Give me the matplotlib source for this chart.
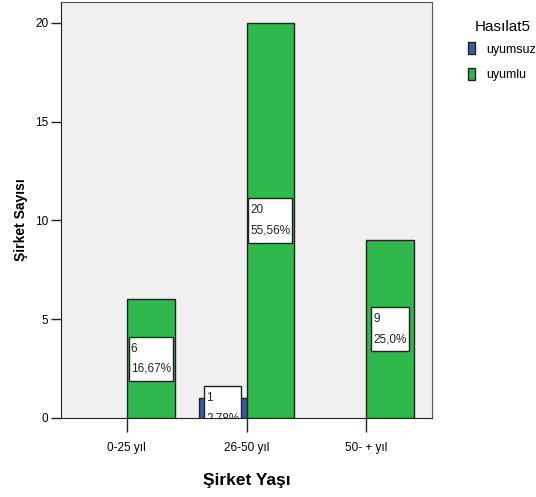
import matplotlib
matplotlib.use("Agg")
import matplotlib.pyplot as plt
from matplotlib.patches import Rectangle, Patch
from matplotlib.transforms import IdentityTransform

plt.rcParams['font.family'] = ['Liberation Sans', 'DejaVu Sans']

# data
categories = ['0-25 yıl', '26-50 yıl', '50- + yıl']
uyumsuz = [0, 1, 0]
uyumlu = [6, 20, 9]
uyumsuz_pct = ['', '2,78%', '']
uyumlu_pct = ['16,67%', '55,56%', '25,0%']
yticks = [0, 5, 10, 15, 20]

blue = '#3C5AA8'
green = '#2FB84B'
bw = 0.4

fig = plt.figure(figsize=(5.36, 4.97), dpi=100)
ax = fig.add_axes([61/536, 1 - 418/497, (432-61)/536, (418-2)/497])
ax.set_facecolor('#F0F0F0')

xs = list(range(len(categories)))
texts = []
for i in xs:
    if uyumsuz[i] > 0:
        ax.bar(i - bw, uyumsuz[i], width=bw, align='edge', color=blue,
               edgecolor='#222222', linewidth=1, zorder=2)
        t = ax.text(i - bw/2, uyumsuz[i]/2, "%d\n%s" % (uyumsuz[i], uyumsuz_pct[i]),
                    ha='center', va='center', multialignment='left',
                    fontsize=8.5, color='#222222', linespacing=1.9, zorder=5, clip_on=True)
        texts.append(t)
    if uyumlu[i] > 0:
        ax.bar(i, uyumlu[i], width=bw, align='edge', color=green,
               edgecolor='#222222', linewidth=1, zorder=2)
        t = ax.text(i + bw/2, uyumlu[i]/2, "%d\n%s" % (uyumlu[i], uyumlu_pct[i]),
                    ha='center', va='center', multialignment='left',
                    fontsize=8.5, color='#222222', linespacing=1.9, zorder=5, clip_on=True)
        texts.append(t)

ax.set_xlim(-0.55, 2.55)
ax.set_ylim(0, 21.06)
ax.set_xticks(xs)
ax.set_xticklabels(categories)
ax.set_yticks(yticks)
ax.tick_params(axis='y', length=7.2, width=1, pad=2, labelsize=8.5, color='#222222')
ax.tick_params(axis='x', length=10, width=1, pad=7, labelsize=8.5, color='#222222')

for s in ['left', 'bottom']:
    ax.spines[s].set_color('#222222')
for s in ['top', 'right']:
    ax.spines[s].set_color('#555555')

ax.set_xlabel('Şirket Yaşı', fontsize=12.5, fontweight='bold')
ax.set_ylabel('Şirket Sayısı', fontsize=10, fontweight='bold')
ax.xaxis.set_label_coords(0.5, -0.132)
ax.yaxis.set_label_coords(-0.089, 0.476)

handles = [Patch(facecolor=blue, edgecolor='#222222'), Patch(facecolor=green, edgecolor='#222222')]
leg = fig.legend(handles, ['uyumsuz', 'uyumlu'], loc='upper left',
                 bbox_to_anchor=(456.5/536, 1 - 31/497), frameon=False, fontsize=9,
                 handlelength=0.6, handleheight=1.1, handletextpad=0.9,
                 labelspacing=1.0)
fig.text(503/536, 1 - 27/497, 'Hasılat5', fontsize=11, ha='center', va='center')

# white value boxes sized to their text
fig.canvas.draw()
for t in texts:
    bb = t.get_window_extent()
    r = Rectangle((bb.x0 - 2, bb.y0 - 6), bb.width + 4, bb.height + 12,
                  transform=IdentityTransform(), facecolor='white',
                  edgecolor='#222222', linewidth=1, zorder=4)
    ax.add_patch(r)

fig.savefig('out.png', dpi=100)
